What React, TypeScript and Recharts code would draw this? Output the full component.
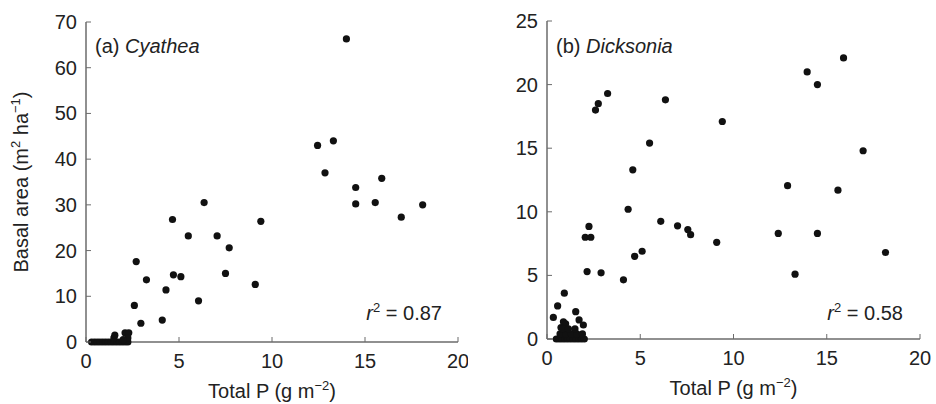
import { ScatterChart, Scatter, XAxis, YAxis, Label } from "recharts";

// Panel (a) Cyathea: total P (g m-2) vs basal area (m2 ha-1)
const cyatheaP = [
  14.0, 12.45, 13.3, 12.85, 15.9, 14.5, 14.5, 15.55, 16.95, 18.1,
  9.4, 7.7, 7.5, 9.1, 6.35, 4.65, 5.5, 7.05, 2.7, 3.25,
  4.7, 5.1, 4.3, 6.05, 2.6, 2.95, 4.1,
  0.3, 0.45, 0.6, 0.75, 0.9, 1.05, 1.2, 1.35, 1.5, 1.65, 1.8, 1.95, 2.1, 2.25,
  1.5, 1.55, 2.1, 2.3, 2.25, 2.0,
];
const cyatheaBA = [
  66.3, 43.0, 44.0, 37.0, 35.8, 33.8, 30.2, 30.5, 27.3, 30.0,
  26.4, 20.6, 15.0, 12.6, 30.5, 26.8, 23.2, 23.2, 17.6, 13.6,
  14.7, 14.3, 11.4, 9.0, 8.0, 4.1, 4.8,
  0, 0, 0, 0, 0, 0, 0, 0, 0, 0, 0, 0, 0, 0,
  0.9, 1.5, 2.0, 2.0, 0.9, 0.5,
];

// Panel (b) Dicksonia
const dicksoniaP = [
  3.25, 2.75, 2.6, 6.35, 5.5, 4.6, 15.9, 13.95, 14.5, 9.4,
  16.95, 12.9, 15.6, 12.4, 14.5, 9.1, 13.3, 18.15,
  4.35, 6.1, 7.0, 7.55, 7.7, 2.25, 2.05, 2.35, 2.15, 2.9, 4.1, 4.7, 5.1,
  0.93, 0.57, 0.34, 1.54, 1.72, 1.95, 0.88, 1.0, 0.75,
  0.5, 0.65, 0.8, 0.95, 1.1, 1.25, 1.4, 1.55, 1.7, 1.85, 2.0,
  0.7, 1.0, 1.3, 1.6, 1.9, 0.85, 1.15, 1.5,
];
const dicksoniaBA = [
  19.3, 18.5, 18.0, 18.8, 15.4, 13.3, 22.1, 21.0, 20.0, 17.1,
  14.8, 12.05, 11.7, 8.3, 8.3, 7.6, 5.1, 6.8,
  10.2, 9.25, 8.9, 8.6, 8.2, 8.85, 8.0, 8.0, 5.3, 5.2, 4.65, 6.5, 6.9,
  3.6, 2.6, 1.7, 2.15, 1.5, 1.1, 1.35, 1.2, 0.9,
  0, 0, 0, 0, 0, 0, 0, 0, 0, 0, 0,
  0.4, 0.4, 0.4, 0.4, 0.4, 0.8, 0.8, 0.8,
];

const xTicks = [0, 5, 10, 15, 20];
const cyatheaTicks = [0, 10, 20, 30, 40, 50, 60, 70];
const dicksoniaTicks = [0, 5, 10, 15, 20, 25];

const font = "'Liberation Sans', Arial, Helvetica, sans-serif";
const axisColor = "#6b6b6b";
const textColor = "#222";

const zip = (xs: number[], ys: number[]) => xs.map((x, i) => ({ x, y: ys[i] }));

function YTick({ x, y, payload }: any) {
  return (
    <g>
      <line x1={x} x2={x + 5} y1={y} y2={y} stroke={axisColor} strokeWidth={1} />
      <text x={x - 9} y={y} dy={7} textAnchor="end" fontSize={20} fill={textColor} fontFamily={font}>
        {payload.value}
      </text>
    </g>
  );
}

function XTick({ x, y, payload }: any) {
  return (
    <g>
      <line x1={x} x2={x} y1={y - 5} y2={y} stroke={axisColor} strokeWidth={1} />
      <text x={x} y={y + 26} textAnchor="middle" fontSize={20} fill={textColor} fontFamily={font}>
        {payload.value}
      </text>
    </g>
  );
}

function XTitle({ viewBox }: any) {
  const cx = viewBox.x + viewBox.width / 2;
  return (
    <text x={cx} y={viewBox.y + 56} textAnchor="middle" fontSize={20} fill={textColor} fontFamily={font}>
      Total P (g m
      <tspan dy={-8} fontSize={13}>−2</tspan>
      <tspan dy={8}>)</tspan>
    </text>
  );
}

function YTitle({ viewBox }: any) {
  const cy = viewBox.y + viewBox.height / 2;
  const x = 28;
  return (
    <text
      x={x}
      y={cy}
      textAnchor="middle"
      fontSize={20}
      fill={textColor}
      fontFamily={font}
      transform={`rotate(-90, ${x}, ${cy})`}
    >
      Basal area (m
      <tspan dy={-8} fontSize={13}>2</tspan>
      <tspan dy={8}> ha</tspan>
      <tspan dy={-8} fontSize={13}>−1</tspan>
      <tspan dy={8}>)</tspan>
    </text>
  );
}

const Dot = (props: any) => <circle cx={props.cx} cy={props.cy} r={3.6} fill="#111" />;

type PanelProps = {
  data: { x: number; y: number }[];
  yMax: number;
  yTicks: number[];
  margin: { top: number; right: number; bottom: number; left: number };
  tag: string;
  genus: string;
  r2: string;
  showYTitle?: boolean;
};

function Panel({ data, yMax, yTicks, margin, tag, genus, r2, showYTitle }: PanelProps) {
  return (
    <ScatterChart width={468} height={404} margin={margin}>
      <XAxis
        type="number"
        dataKey="x"
        domain={[0, 20]}
        ticks={xTicks}
        tickSize={0}
        tickMargin={0}
        tick={<XTick />}
        axisLine={{ stroke: axisColor, strokeWidth: 1.5 }}
        height={30}
        interval={0}
      >
        <Label content={<XTitle />} />
      </XAxis>
      <YAxis
        type="number"
        dataKey="y"
        domain={[0, yMax]}
        ticks={yTicks}
        tickSize={0}
        tickMargin={0}
        tick={<YTick />}
        axisLine={{ stroke: axisColor, strokeWidth: 1.5 }}
        width={60}
        interval={0}
      >
        {showYTitle ? <Label content={<YTitle />} /> : null}
      </YAxis>
      <Scatter data={data} fill="#111" shape={<Dot />} isAnimationActive={false} />
      <text x={margin.left + 60 + 9} y={53} fontSize={20} fill={textColor} fontFamily={font}>
        {tag} <tspan fontStyle="italic">{genus}</tspan>
      </text>
      <text x={margin.left + 60 + 356} y={320} textAnchor="end" fontSize={20} fill={textColor} fontFamily={font}>
        <tspan fontStyle="italic">r</tspan>
        <tspan dy={-8} fontSize={13}>2</tspan>
        <tspan dy={8}> = {r2}</tspan>
      </text>
    </ScatterChart>
  );
}

export default function App() {
  return (
    <div style={{ position: "absolute", left: 0, top: 0, width: 936, height: 404, background: "#fff", display: "flex" }}>
      <Panel
        data={zip(cyatheaP, cyatheaBA)}
        yMax={70}
        yTicks={cyatheaTicks}
        margin={{ top: 22, right: 10, bottom: 32, left: 26 }}
        tag="(a)"
        genus="Cyathea"
        r2="0.87"
        showYTitle
      />
      <Panel
        data={zip(dicksoniaP, dicksoniaBA)}
        yMax={25}
        yTicks={dicksoniaTicks}
        margin={{ top: 21, right: 16, bottom: 35, left: 19 }}
        tag="(b)"
        genus="Dicksonia"
        r2="0.58"
      />
    </div>
  );
}
